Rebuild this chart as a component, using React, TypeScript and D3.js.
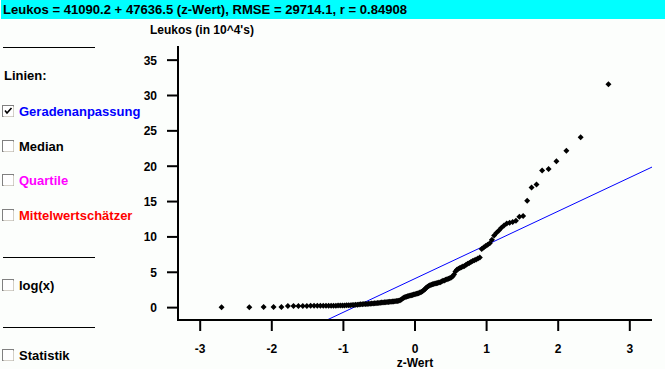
import React from "react";
import * as d3 from "d3";

// Leukos, sorted ascending, in units of 10^4
const leukos = [
  0.05, 0.07, 0.08, 0.09, 0.1,
  0.22, 0.23, 0.23, 0.24, 0.24, 0.25, 0.25, 0.25, 0.26, 0.26, 0.27, 0.27, 0.27, 0.28, 0.28, 0.29, 0.29,
  0.3, 0.31, 0.32, 0.33, 0.34, 0.36, 0.38, 0.4, 0.42, 0.44, 0.46, 0.48, 0.5, 0.52, 0.53, 0.54, 0.55,
  0.57, 0.59, 0.61, 0.63, 0.65, 0.67, 0.69, 0.71, 0.73, 0.75, 0.76, 0.78, 0.8, 0.82, 0.84, 0.86, 0.88,
  0.9, 0.92, 0.94, 0.97,
  1.05, 1.15, 1.3, 1.4, 1.5, 1.55, 1.6, 1.65, 1.7, 1.75, 1.8, 1.85, 1.9, 1.95, 2.0, 2.05, 2.15, 2.2,
  2.3, 2.45, 2.6, 2.8, 2.95, 3.05, 3.15, 3.25, 3.3, 3.35, 3.4, 3.45, 3.5, 3.55, 3.6, 3.7, 3.8, 3.85,
  3.95, 4.0, 4.1, 4.15, 4.25, 4.4, 4.7, 5.1, 5.35, 5.5, 5.6, 5.7, 5.8, 5.9, 6.05, 6.2, 6.3, 6.45, 6.6,
  6.7, 6.8, 6.95, 7.1, 8.3, 8.5, 8.7, 8.9, 9.1, 9.6, 10.2, 10.6, 10.9, 11.3, 11.6, 11.9, 12.0, 12.1,
  12.3, 12.85, 12.95,
  15.1, 17.0, 17.4, 19.4, 19.6, 20.7, 22.2, 24.1, 31.6,
];

const intercept = 41090.2;
const slope = 47636.5;
const scaleUnit = 1e4;

const yTicks = [0, 5, 10, 15, 20, 25, 30, 35];
const xTicks = [-3, -2, -1, 0, 1, 2, 3];

const title = "Leukos = 41090.2 + 47636.5 (z-Wert), RMSE = 29714.1, r = 0.84908";
const yLabel = "Leukos (in 10^4's)";
const xLabel = "z-Wert";

const options = [
  { label: "Geradenanpassung", color: "#0000ff", checked: true, y: 111 },
  { label: "Median", color: "#000000", checked: false, y: 146 },
  { label: "Quartile", color: "#ff00ff", checked: false, y: 180 },
  { label: "Mittelwertschätzer", color: "#ff0000", checked: false, y: 215 },
  { label: "log(x)", color: "#000000", checked: false, y: 285 },
  { label: "Statistik", color: "#000000", checked: false, y: 355 },
];
const separators = [47, 257, 327];

// inverse normal CDF (Acklam)
function qnorm(p: number) {
  const a = [-39.69683028665376, 220.9460984245205, -275.9285104469687, 138.357751867269, -30.66479806614716, 2.506628277459239];
  const b = [-54.47609879822406, 161.5858368580409, -155.6989798598866, 66.80131188771972, -13.28068155288572];
  const c = [-0.007784894002430293, -0.3223964580411365, -2.400758277161838, -2.549732539343734, 4.374664141464968, 2.938163982698783];
  const d = [0.007784695709041462, 0.3224671290700398, 2.445134137142996, 3.754408661907416];
  const pl = 0.02425;
  if (p < pl) {
    const q = Math.sqrt(-2 * Math.log(p));
    return (((((c[0] * q + c[1]) * q + c[2]) * q + c[3]) * q + c[4]) * q + c[5]) / ((((d[0] * q + d[1]) * q + d[2]) * q + d[3]) * q + 1);
  }
  if (p > 1 - pl) {
    const q = Math.sqrt(-2 * Math.log(1 - p));
    return -(((((c[0] * q + c[1]) * q + c[2]) * q + c[3]) * q + c[4]) * q + c[5]) / ((((d[0] * q + d[1]) * q + d[2]) * q + d[3]) * q + 1);
  }
  const q = p - 0.5;
  const r = q * q;
  return ((((((a[0] * r + a[1]) * r + a[2]) * r + a[3]) * r + a[4]) * r + a[5]) * q) / (((((b[0] * r + b[1]) * r + b[2]) * r + b[3]) * r + b[4]) * r + 1);
}

const W = 665;
const H = 369;
const left = 178, right = 652, top = 46, bottom = 320;
const font = "'Liberation Sans', Arial, sans-serif";

function CheckBox({ x, y, checked }: { x: number; y: number; checked: boolean }) {
  return (
    <g>
      <rect x={x + 0.5} y={y + 0.5} width={11} height={11} fill="#fff" stroke="#808080" />
      <path d={`M${x + 1.5},${y + 11.5}H${x + 11.5}V${y + 1.5}`} fill="none" stroke="#d4d0c8" />
      {checked && (
        <path d={`M${x + 3},${y + 5.5}L${x + 5},${y + 8}L${x + 9.5},${y + 3}`} fill="none" stroke="#000" strokeWidth={1.6} />
      )}
    </g>
  );
}

export default function App() {
  const x = d3.scaleLinear().domain([-3.31, 3.31]).range([left, right]);
  const y = d3.scaleLinear().domain([-1.75, 37]).range([bottom, top]);
  const n = leukos.length;
  const pts = leukos.map((v, i) => ({ z: qnorm((i + 0.5) / n), v }));
  const fit = (z: number) => (intercept + slope * z) / scaleUnit;
  const line = d3.line<number>().x((z) => x(z)).y((z) => y(fit(z)));

  return (
    <div style={{ position: "absolute", left: 0, top: 0 }}>
      <svg width={W} height={H} style={{ display: "block", background: "#fcfefc" }} fontFamily={font}>
        <defs>
          <clipPath id="plot">
            <rect x={left} y={top} width={right - left} height={bottom - top} />
          </clipPath>
        </defs>
        <rect x={1} y={0} width={W - 1} height={19} fill="#00ffff" />
        <text x={3} y={14} fontSize={12} fontWeight="bold" textLength={404} lengthAdjust="spacingAndGlyphs">
          {title}
        </text>

        {separators.map((s) => (
          <line key={s} x1={3} x2={95} y1={s + 0.5} y2={s + 0.5} stroke="#000" />
        ))}
        <text x={4} y={80} fontSize={13} fontWeight="bold">Linien:</text>
        {options.map((o) => (
          <g key={o.label}>
            <CheckBox x={2} y={o.y - 6} checked={o.checked} />
            <text x={19} y={o.y + 5} fontSize={13} fontWeight="bold" fill={o.color}>{o.label}</text>
          </g>
        ))}

        <text x={150} y={34} fontSize={12} fontWeight="bold">{yLabel}</text>

        <g clipPath="url(#plot)">
          <path d={line(x.domain()) || ""} fill="none" stroke="#0000ff" strokeWidth={1} />
        </g>
        {pts.map((p, i) => (
          <path key={i} transform={`translate(${x(p.z)},${y(p.v)})`} d="M0,-3L3,0L0,3L-3,0Z" fill="#000" />
        ))}

        <line x1={left} x2={left} y1={top} y2={bottom + 1} stroke="#000" strokeWidth={2} />
        <line x1={left} x2={right} y1={bottom} y2={bottom} stroke="#000" strokeWidth={2} />
        {yTicks.map((t) => (
          <g key={t}>
            <line x1={167} x2={left} y1={y(t)} y2={y(t)} stroke="#000" strokeWidth={2} />
            <text x={157} y={y(t) + 4.5} fontSize={12} fontWeight="bold" textAnchor="end">{t}</text>
          </g>
        ))}
        {xTicks.map((t) => (
          <g key={t}>
            <line x1={x(t)} x2={x(t)} y1={bottom} y2={bottom + 11} stroke="#000" strokeWidth={2} />
            <text x={x(t)} y={353} fontSize={12} fontWeight="bold" textAnchor="middle">{t}</text>
          </g>
        ))}
        <text x={x(0)} y={367} fontSize={12} fontWeight="bold" textAnchor="middle">{xLabel}</text>
      </svg>
    </div>
  );
}
